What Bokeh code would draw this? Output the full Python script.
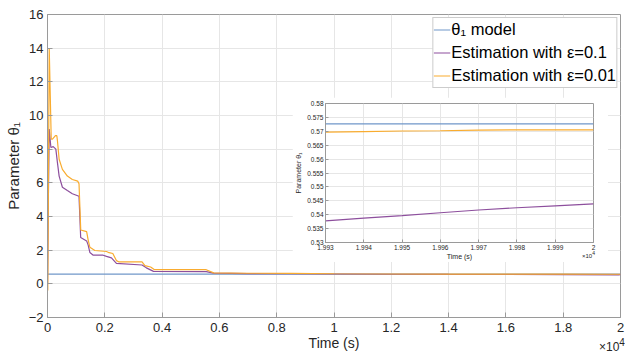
from bokeh.plotting import figure
from bokeh.models import Range1d, FixedTicker, Legend, LegendItem, Div
from bokeh.embed import file_html
from bokeh.resources import INLINE

# ---------------- data ----------------
t_model = [0, 20000]
theta_model = [0.5727, 0.5727]

t_eps01 = [0, 30, 60, 118, 200, 291, 347, 406, 520, 693,
           867, 1100, 1158, 1366, 1420, 1480, 1597, 1943, 2060, 2232,
           2405, 3300, 3450, 3700, 5540, 5800, 7000, 8500, 10000, 12000,
           14000, 16000, 18000, 19930, 20000]
v_eps01 = [0, 5.0, 9.2, 8.1, 8.15, 8.0, 7.2, 6.4, 5.74, 5.54,
           5.35, 5.2, 2.75, 2.55, 2.3, 1.86, 1.70, 1.70, 1.63, 1.54,
           1.22, 1.12, 0.95, 0.74, 0.73, 0.64, 0.61, 0.60, 0.585, 0.57,
           0.56, 0.555, 0.548, 0.5378, 0.5439]

t_eps001 = [0, 10, 60, 130, 173, 277, 326, 347, 406, 520,
            693, 867, 1054, 1100, 1160, 1366, 1420, 1480, 1653, 2060,
            2150, 2280, 2405, 2500, 3300, 3400, 3600, 3735, 5540, 5800,
            7000, 8500, 10000, 12000, 14000, 16000, 18000, 19930, 20000]
v_eps001 = [0, -0.4, 14.0, 8.6, 8.6, 8.8, 8.8, 8.5, 7.4, 6.8,
            6.4, 6.2, 6.1, 5.95, 3.2, 3.1, 2.6, 2.17, 1.98, 1.92,
            1.85, 1.8, 1.38, 1.3, 1.3, 1.08, 1.0, 0.84, 0.84, 0.65,
            0.63, 0.62, 0.60, 0.585, 0.578, 0.574, 0.571, 0.5697, 0.5705]

inset_t = [19930, 19940, 19950, 19960, 19970, 19980, 19990, 20000]
inset_model = [0.5727] * len(inset_t)
inset_v01 = [0.5378, 0.5388, 0.5397, 0.5407, 0.5417, 0.5425, 0.5432, 0.5439]
inset_v001 = [0.5697, 0.5699, 0.5701, 0.5702, 0.5704, 0.5705, 0.5705, 0.5705]

x_ticks = [0, 2000, 4000, 6000, 8000, 10000, 12000, 14000, 16000, 18000, 20000]
x_tick_labels = ["0", "0.2", "0.4", "0.6", "0.8", "1", "1.2", "1.4", "1.6", "1.8", "2"]
y_ticks = [-2, 0, 2, 4, 6, 8, 10, 12, 14, 16]

inset_x_ticks = [19930, 19940, 19950, 19960, 19970, 19980, 19990, 20000]
inset_x_tick_labels = ["1.993", "1.994", "1.995", "1.996", "1.997", "1.998", "1.999", "2"]
inset_y_ticks = [0.53, 0.535, 0.54, 0.545, 0.55, 0.555, 0.56, 0.565, 0.57, 0.575, 0.58]
inset_y_tick_labels = ["0.53", "0.535", "0.54", "0.545", "0.55", "0.555", "0.56",
                       "0.565", "0.57", "0.575", "0.58"]

labels = ["\u03b8\u2081 model", "Estimation with \u03b5=0.1", "Estimation with \u03b5=0.01"]
exp_label = "\u00d710<sup>4</sup>"

# ---------------- style ----------------
FONT = "Liberation Sans"
C_MODEL = "#7097c9"
C_01 = "#8d4f9d"
C_001 = "#f9ac2f"
AX = "#9a9a9a"
TXT = "#262626"
GRID = "#e6e6e6"


def style_axis(ax, font_size, tick_in, standoff, label_size, label_standoff):
    ax.major_tick_in = tick_in
    ax.major_tick_out = 0
    ax.minor_tick_line_color = None
    ax.major_tick_line_color = AX
    ax.axis_line_color = AX
    ax.major_label_text_font = FONT
    ax.major_label_text_font_size = font_size
    ax.major_label_text_color = TXT
    ax.major_label_standoff = standoff
    ax.axis_label_text_font = FONT
    ax.axis_label_text_font_style = "normal"
    ax.axis_label_text_color = TXT
    ax.axis_label_text_font_size = label_size
    ax.axis_label_standoff = label_standoff


# ---------------- main figure ----------------
p = figure(width=625, height=354, x_range=Range1d(0, 20000), y_range=Range1d(-2, 16),
           output_backend="svg", toolbar_location=None,
           min_border_left=47, min_border_right=5, min_border_top=14, min_border_bottom=37)
p.background_fill_color = "white"
p.border_fill_color = "white"
p.outline_line_color = AX

r_model = p.line(t_model, theta_model, line_color=C_MODEL, line_width=1.2)
r_01 = p.line(t_eps01, v_eps01, line_color=C_01, line_width=1.2)
r_001 = p.line(t_eps001, v_eps001, line_color=C_001, line_width=1.2)

p.xaxis.ticker = FixedTicker(ticks=x_ticks)
p.xaxis.major_label_overrides = {t: s for t, s in zip(x_ticks, x_tick_labels)}
p.yaxis.ticker = FixedTicker(ticks=y_ticks)
p.xaxis.axis_label = "Time (s)"
p.yaxis.axis_label = "Parameter \u03b8\u2081"
style_axis(p.xaxis[0], "13px", 5, 5, "14px", 0)
style_axis(p.yaxis[0], "13px", 5, 4, "15px", 4)
p.grid.grid_line_color = GRID
p.grid.grid_line_width = 1

legend = Legend(items=[LegendItem(label=labels[0], renderers=[r_model]),
                       LegendItem(label=labels[1], renderers=[r_01]),
                       LegendItem(label=labels[2], renderers=[r_001])],
                location="top_right")
legend.border_line_color = AX
legend.background_fill_color = "white"
legend.background_fill_alpha = 1
legend.label_text_font = FONT
legend.label_text_font_size = "16.5px"
legend.label_text_color = "#000000"
legend.glyph_width = 17
legend.glyph_height = 23
legend.label_height = 23
legend.label_standoff = 1
legend.spacing = 0
legend.padding = 0
legend.margin = 3
p.add_layout(legend)

# ---------------- inset ----------------
q = figure(width=316, height=165, x_range=Range1d(19930, 20000), y_range=Range1d(0.53, 0.58),
           output_backend="svg", toolbar_location=None,
           min_border_left=33, min_border_right=15, min_border_top=6, min_border_bottom=18)
q.background_fill_color = "white"
q.border_fill_color = "white"
q.outline_line_color = AX
q.line(inset_t, inset_model, line_color=C_MODEL, line_width=1.2)
q.line(inset_t, inset_v01, line_color=C_01, line_width=1.2)
q.line(inset_t, inset_v001, line_color=C_001, line_width=1.2)
q.xaxis.ticker = FixedTicker(ticks=inset_x_ticks)
q.xaxis.major_label_overrides = {t: s for t, s in zip(inset_x_ticks, inset_x_tick_labels)}
q.yaxis.ticker = FixedTicker(ticks=inset_y_ticks)
q.yaxis.major_label_overrides = {t: s for t, s in zip(inset_y_ticks, inset_y_tick_labels)}
q.xaxis.axis_label = "Time (s)"
q.yaxis.axis_label = "Parameter \u03b8\u2081"
style_axis(q.xaxis[0], "6.5px", 3, 2, "7px", 0)
style_axis(q.yaxis[0], "6.5px", 3, 2, "7px", 2)
q.grid.grid_line_color = GRID
q.styles = {"position": "absolute", "left": "292px", "top": "97px"}

exp_main = Div(text=exp_label, width=30, height=13,
               styles={"position": "absolute", "left": "594px", "top": "333px",
                       "font-family": FONT, "font-size": "12px", "color": TXT,
                       "line-height": "1"})
exp_inset = Div(text=exp_label, width=16, height=8,
                styles={"position": "absolute", "left": "577px", "top": "246px",
                        "font-family": FONT, "font-size": "6px", "color": TXT,
                        "line-height": "1"})

open("out.html", "w").write(file_html([p, q, exp_main, exp_inset], INLINE))
